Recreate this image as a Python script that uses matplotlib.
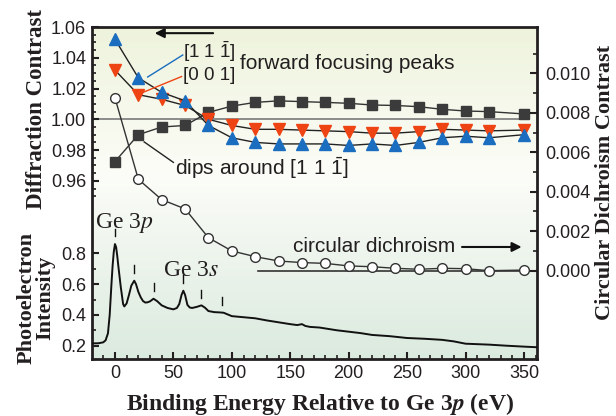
import numpy as np
import matplotlib
matplotlib.use("Agg")
import matplotlib.pyplot as plt
from matplotlib import font_manager
from matplotlib.colors import LinearSegmentedColormap

# ---------------- data ----------------
energy = [0, 20, 40, 60, 80, 100, 120, 140, 160, 180, 200, 220, 240, 260, 280, 300, 320, 350]
fwd_111 = [1.052, 1.027, 1.0175, 1.012, 0.996, 0.988, 0.985, 0.984, 0.984, 0.984, 0.983,
           0.984, 0.983, 0.985, 0.988, 0.989, 0.988, 0.990]
fwd_001 = [1.032, 1.016, 1.013, 1.009, 1.000, 0.996, 0.9935, 0.9935, 0.993, 0.9925, 0.992,
           0.991, 0.991, 0.992, 0.9935, 0.993, 0.9925, 0.993]
dips_111 = [0.9725, 0.990, 0.995, 0.996, 1.0045, 1.0086, 1.011, 1.012, 1.0115, 1.011, 1.0104,
            1.0093, 1.009, 1.0082, 1.0065, 1.0054, 1.005, 1.0035]
cd_contrast = [0.00876, 0.00463, 0.00360, 0.00313, 0.00167, 0.00100, 0.00071, 0.00049, 0.00041,
               0.00037, 0.00024, 0.00020, 0.00012, 0.00007, 0.00012, 0.00010, 0.00000, 0.00003]

spec_x = [-20, -14, -10, -8, -6, -4.5, -3, -2, -1, 0, 1, 2, 3, 5, 7, 8, 10, 12, 14, 16.5, 18,
          20, 22, 24, 26, 28, 30, 33, 36, 40, 45, 50, 53, 55, 57, 58.5, 60, 62, 64, 66, 70,
          74, 77, 80, 85, 90, 93, 100, 110, 120, 130, 140, 150, 156, 160, 163, 167, 175,
          190, 200, 210, 220, 235, 250, 265, 280, 290, 300, 310, 320, 335, 350, 361]
spec_y = [0.215, 0.216, 0.222, 0.235, 0.28, 0.40, 0.60, 0.72, 0.81, 0.86, 0.84, 0.78, 0.71,
          0.58, 0.47, 0.455, 0.475, 0.53, 0.59, 0.622, 0.60, 0.55, 0.515, 0.49, 0.480, 0.482,
          0.488, 0.505, 0.49, 0.462, 0.445, 0.436, 0.445, 0.47, 0.53, 0.557, 0.53, 0.465,
          0.448, 0.445, 0.452, 0.462, 0.447, 0.425, 0.418, 0.416, 0.414, 0.392, 0.385, 0.378,
          0.364, 0.352, 0.340, 0.334, 0.340, 0.328, 0.322, 0.318, 0.300, 0.291, 0.282, 0.270,
          0.262, 0.250, 0.245, 0.238, 0.228, 0.213, 0.210, 0.207, 0.200, 0.194, 0.190]

peak_marks_x = [0, 16.5, 33, 58.5, 74, 92]

left_ticks = [0.96, 0.98, 1.00, 1.02, 1.04, 1.06]
pe_ticks = [0.2, 0.4, 0.6, 0.8]
cd_ticks = [0.000, 0.002, 0.004, 0.006, 0.008, 0.010]
x_ticks = [0, 50, 100, 150, 200, 250, 300, 350]

# ---------------- fonts ----------------
names = {f.name for f in font_manager.fontManager.ttflist}
if "Liberation Sans Narrow" in names:
    SANS = ["Liberation Sans Narrow", "DejaVu Sans"]
    tsize, asize, bsize = 15.5, 17, 16
else:
    SANS = ["Liberation Sans", "DejaVu Sans"]
    tsize, asize, bsize = 13, 15, 13.5
SERIF = ["Liberation Serif", "DejaVu Serif"]
plt.rcParams['font.family'] = SANS
plt.rcParams['mathtext.fontset'] = 'custom'
plt.rcParams['mathtext.rm'] = SANS[0]
plt.rcParams['mathtext.it'] = SANS[0] + ':italic'

TXT = "#231f20"
LSIZE = 17

fig = plt.figure(figsize=(6.16, 4.16), dpi=100)
pos = [91.7 / 616, 1 - 359.3 / 416, (536.7 - 91.7) / 616, (359.3 - 26.7) / 416]

ax = fig.add_axes(pos)          # diffraction contrast (left upper)
ax_pe = fig.add_axes(pos, sharex=ax)  # photoelectron (left lower)
ax_cd = fig.add_axes(pos, sharex=ax)  # circular dichroism (right)
for a in (ax_pe, ax_cd):
    a.patch.set_visible(False)

xlim = (-19.9, 360.9)
ax.set_xlim(*xlim)
ax.set_ylim(0.844, 1.0602)
ax_pe.set_ylim(0.1117, 2.2715)
ax_cd.set_ylim(-0.00449, 0.01236)

# background gradient
cmap = LinearSegmentedColormap.from_list(
    "bg", [(0.0, "#dbeadf"), (0.55, "#fcfdf8"), (1.0, "#eef3dc")])
grad = np.linspace(0, 1, 256).reshape(-1, 1)
ax.imshow(grad, extent=[0, 1, 0, 1], transform=ax.transAxes, aspect='auto',
          cmap=cmap, origin='lower', zorder=0)
ax.set_xlim(*xlim)
ax.set_ylim(0.844, 1.0602)

# reference lines
ax.plot([xlim[0], 353], [1.0, 1.0], color="#7a7a7a", lw=1.2, zorder=1)
ax_cd.plot([122, xlim[1]], [0, 0], color="#333333", lw=1.2, zorder=1)

# series
ax.plot(energy, dips_111, '-s', color="#333333", lw=1.0, ms=6.5, mfc="#3b3b3b",
        mec="#3b3b3b", zorder=3)
ax.plot(energy, fwd_001, '-v', color="#222222", lw=1.0, ms=8, mfc="#ee4414",
        mec="#ee4414", zorder=4)
ax.plot(energy, fwd_111, '-^', color="#222222", lw=1.0, ms=8, mfc="#1a6dbf",
        mec="#1a6dbf", zorder=4)
ax_cd.plot(energy, cd_contrast, '-o', color="#333333", lw=1.0, ms=7, mfc="white",
           mec="#333333", mew=1.0, zorder=3)
ax_pe.plot(spec_x, spec_y, '-', color="#111111", lw=1.4, zorder=3)

# peak marks
spec_interp = np.interp(peak_marks_x, spec_x, spec_y)
for px, py in zip(peak_marks_x, spec_interp):
    ax_pe.plot([px, px], [py + 0.05, py + 0.10], color="#111111", lw=1.0)

# ---------------- spines & ticks ----------------
for a in (ax_pe, ax_cd):
    for s in a.spines.values():
        s.set_visible(False)
for s in ax.spines.values():
    s.set_linewidth(2.0)
    s.set_color("#231f20")

ax.set_xticks(x_ticks)
ax.set_xticks(np.arange(-10, 361, 10), minor=True)
ax.set_yticks(left_ticks)
ax.set_yticks(np.arange(0.95, 1.0601, 0.005), minor=True)
ax.tick_params(axis='both', which='both', direction='in', right=False, top=False,
               colors="#231f20", labelcolor=TXT)
ax.tick_params(axis='both', which='major', length=5, width=1.5, labelsize=tsize, pad=4)
ax.tick_params(axis='both', which='minor', length=3, width=1.2)
ax.set_yticklabels([f"{v:.2f}" for v in left_ticks])

ax_pe.set_yticks(pe_ticks)
ax_pe.set_yticks([0.3, 0.5, 0.7], minor=True)
ax_pe.tick_params(axis='y', which='both', direction='in', left=True, right=False,
                  colors="#231f20", labelcolor=TXT)
ax_pe.tick_params(axis='y', which='major', length=5, width=1.5, labelsize=tsize, pad=4)
ax_pe.tick_params(axis='y', which='minor', length=3, width=1.2)
ax_pe.set_yticklabels([f"{v:.1f}" for v in pe_ticks])
ax_pe.tick_params(axis='x', which='both', bottom=False, labelbottom=False)

ax_cd.yaxis.tick_right()
ax_cd.set_yticks(cd_ticks)
ax_cd.set_yticks([0.001, 0.003, 0.005, 0.007, 0.009, 0.011], minor=True)
ax_cd.tick_params(axis='y', which='both', direction='in', colors="#231f20", labelcolor=TXT)
ax_cd.tick_params(axis='y', which='major', length=5, width=1.5, labelsize=tsize, pad=6)
ax_cd.tick_params(axis='y', which='minor', length=3, width=1.2)
ax_cd.set_yticklabels([f"{v:.3f}" for v in cd_ticks])
ax_cd.tick_params(axis='x', which='both', bottom=False, labelbottom=False)

# ---------------- axis labels ----------------
lab = dict(family=SERIF, fontweight='bold', color=TXT)
fig.text(37 / 616, 1 - 109 / 416, "Diffraction Contrast", rotation=90, ha='center',
         va='center', fontsize=16.5, **lab)
fig.text(36 / 616, 1 - 298 / 416, "Photoelectron\nIntensity", rotation=90, ha='center',
         va='center', fontsize=16, linespacing=0.9, **lab)
fig.text(605 / 616, 1 - 182 / 416, "Circular Dichroism Contrast", rotation=90,
         ha='center', va='center', fontsize=16, **lab)
fig.text(320 / 616, 1 - 404 / 416, r"Binding Energy Relative to Ge 3$\mathbfit{p}$ (eV)",
         ha='center', va='center', fontsize=LSIZE, math_fontfamily='stix', **lab)

# ---------------- annotations ----------------
ann = dict(fontsize=asize, color=TXT, va='center', ha='left')
bann = dict(fontsize=bsize, color=TXT, va='center', ha='left')
ax.text(58, 1.0438, r"[1 1 $\bar{\mathrm{1}}$]", **bann)
ax.text(58, 1.0288, "[0 0 1]", **bann)
ax.text(107, 1.0366, "forward focusing peaks", **ann)
ax.plot([28, 58], [1.0275, 1.0418], color="#1a6dbf", lw=1.0, zorder=5)
ax.plot([24, 57], [1.0175, 1.0278], color="#ee4414", lw=1.0, zorder=5)
ax.text(51, 0.9684, r"dips around [1 1 $\bar{\mathrm{1}}$]", **ann)
ax.plot([25, 50], [0.9853, 0.9720], color="#222222", lw=1.0, zorder=5)
ax.annotate("", xy=(34, 1.056), xytext=(84, 1.056),
            arrowprops=dict(arrowstyle='-|>', color="#111111", lw=1.5,
                            mutation_scale=14, shrinkA=0, shrinkB=0))
ax.text(152, 0.917, "circular dichroism", **ann)
ax_cd.annotate("", xy=(348, 0.0012), xytext=(297, 0.0012),
               arrowprops=dict(arrowstyle='-|>', color="#111111", lw=1.5,
                               mutation_scale=14, shrinkA=0, shrinkB=0))
ax.text(-17, 0.9325, r"Ge 3$\mathit{p}$", family=SERIF, fontsize=LSIZE, color=TXT,
        va='center', ha='left', math_fontfamily='stix')
ax.text(41, 0.9015, r"Ge 3$\mathit{s}$", family=SERIF, fontsize=LSIZE, color=TXT,
        va='center', ha='left', math_fontfamily='stix')

fig.savefig("out.png", dpi=100)
